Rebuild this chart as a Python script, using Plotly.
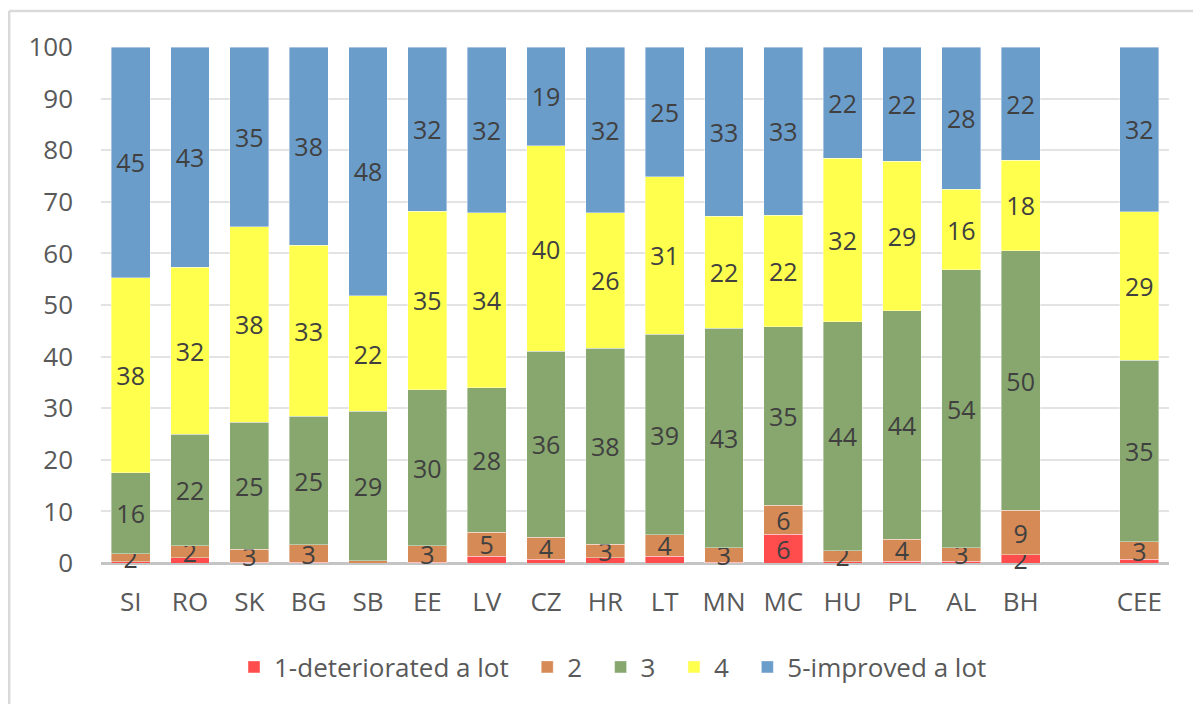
import plotly.graph_objects as go

categories = ["SI", "RO", "SK", "BG", "SB", "EE", "LV", "CZ", "HR", "LT",
              "MN", "MC", "HU", "PL", "AL", "BH", " ", "CEE"]

s1 = [0.2, 1.0, 0.1, 0.1, 0.0, 0.1, 1.3, 0.7, 1.0, 1.3, 0.1, 5.6, 0.2, 0.3, 0.3, 1.6, None, 0.7]
s2 = [1.6, 2.3, 2.6, 3.4, 0.4, 3.2, 4.7, 4.3, 2.6, 4.2, 2.9, 5.6, 2.2, 4.3, 2.7, 8.6, None, 3.4]
s3 = [15.7, 21.7, 24.6, 24.9, 29.0, 30.3, 28.0, 36.0, 38.0, 38.8, 42.5, 34.6, 44.4, 44.3, 53.8, 50.3, None, 35.2]
s4 = [37.8, 32.3, 37.9, 33.2, 22.4, 34.6, 33.9, 39.9, 26.3, 30.6, 21.7, 21.6, 31.6, 29.0, 15.6, 17.6, None, 28.8]
s5 = [44.7, 42.7, 34.8, 38.4, 48.2, 31.8, 32.1, 19.1, 32.1, 25.1, 32.8, 32.6, 21.6, 22.1, 27.6, 21.9, None, 31.9]

series_names = ["1-deteriorated a lot", "2", "3", "4", "5-improved a lot"]
series_vals = [s1, s2, s3, s4, s5]
colors = ["#FF4D4D", "#D68A56", "#87A76E", "#FFFF4D", "#6B9DCB"]

FONT = "Open Sans"
FS = 26
FS_BAR = 25

W, H = 1193, 696
ML, MR, MT, MB = 93, 32, 39, 141
PW, PH = W - ML - MR, H - MT - MB
PAD = "\u00a0\u00a0"


def label(v):
    if v is None:
        return ""
    r = int(v + 0.5)
    return str(r) if r >= 2 else ""


fig = go.Figure()
for i, (name, vals, col) in enumerate(zip(series_names, series_vals, colors)):
    fig.add_trace(go.Bar(
        x=categories, y=vals,
        name=name + (PAD if i < len(series_names) - 1 else ""),
        marker=dict(color=col, line=dict(color="rgba(255,255,255,0.5)", width=0.8)),
        text=[label(v) for v in vals],
        textposition="inside", insidetextanchor="middle", textangle=0,
        textfont=dict(family=FONT, size=FS_BAR, color="#404040"),
        cliponaxis=False,
    ))

bx = 1.2 / PW - ML / PW          # left frame line (paper coords)
by = 1 + (MT - 3) / PH           # top frame line (paper coords)

fig.update_layout(
    barmode="stack",
    bargap=0.343,
    width=W, height=H,
    margin=dict(l=ML, r=MR, t=MT, b=MB),
    paper_bgcolor="white", plot_bgcolor="white",
    font=dict(family=FONT, size=FS, color="#595959"),
    uniformtext=dict(minsize=FS_BAR, mode="show"),
    showlegend=True,
    legend=dict(orientation="h", x=(613 - 8 - ML) / PW, xanchor="center",
                y=-(659 - (MT + PH)) / PH, yanchor="middle",
                font=dict(family=FONT, size=FS, color="#595959"),
                itemwidth=30, tracegroupgap=0, traceorder="normal"),
    xaxis=dict(categoryorder="array", categoryarray=categories, showgrid=False,
               showline=False, ticks="", ticklabelstandoff=21,
               tickfont=dict(family=FONT, size=FS, color="#595959")),
    yaxis=dict(range=[0, 100], dtick=10, showgrid=True, gridcolor="#E3E3E3", gridwidth=1.5,
               zeroline=True, zerolinecolor="#C4C4C4", zerolinewidth=2.5,
               showline=False, ticks="", ticklabelstandoff=27,
               tickfont=dict(family=FONT, size=FS, color="#595959")),
    shapes=[dict(type="line", xref="paper", yref="paper",
                 x0=bx, x1=1.2, y0=by, y1=by,
                 line=dict(color="#D9D9D9", width=2.5)),
            dict(type="line", xref="paper", yref="paper",
                 x0=bx, x1=bx, y0=-0.5, y1=by,
                 line=dict(color="#D9D9D9", width=2.5))],
)

fig.write_html("out.html")
